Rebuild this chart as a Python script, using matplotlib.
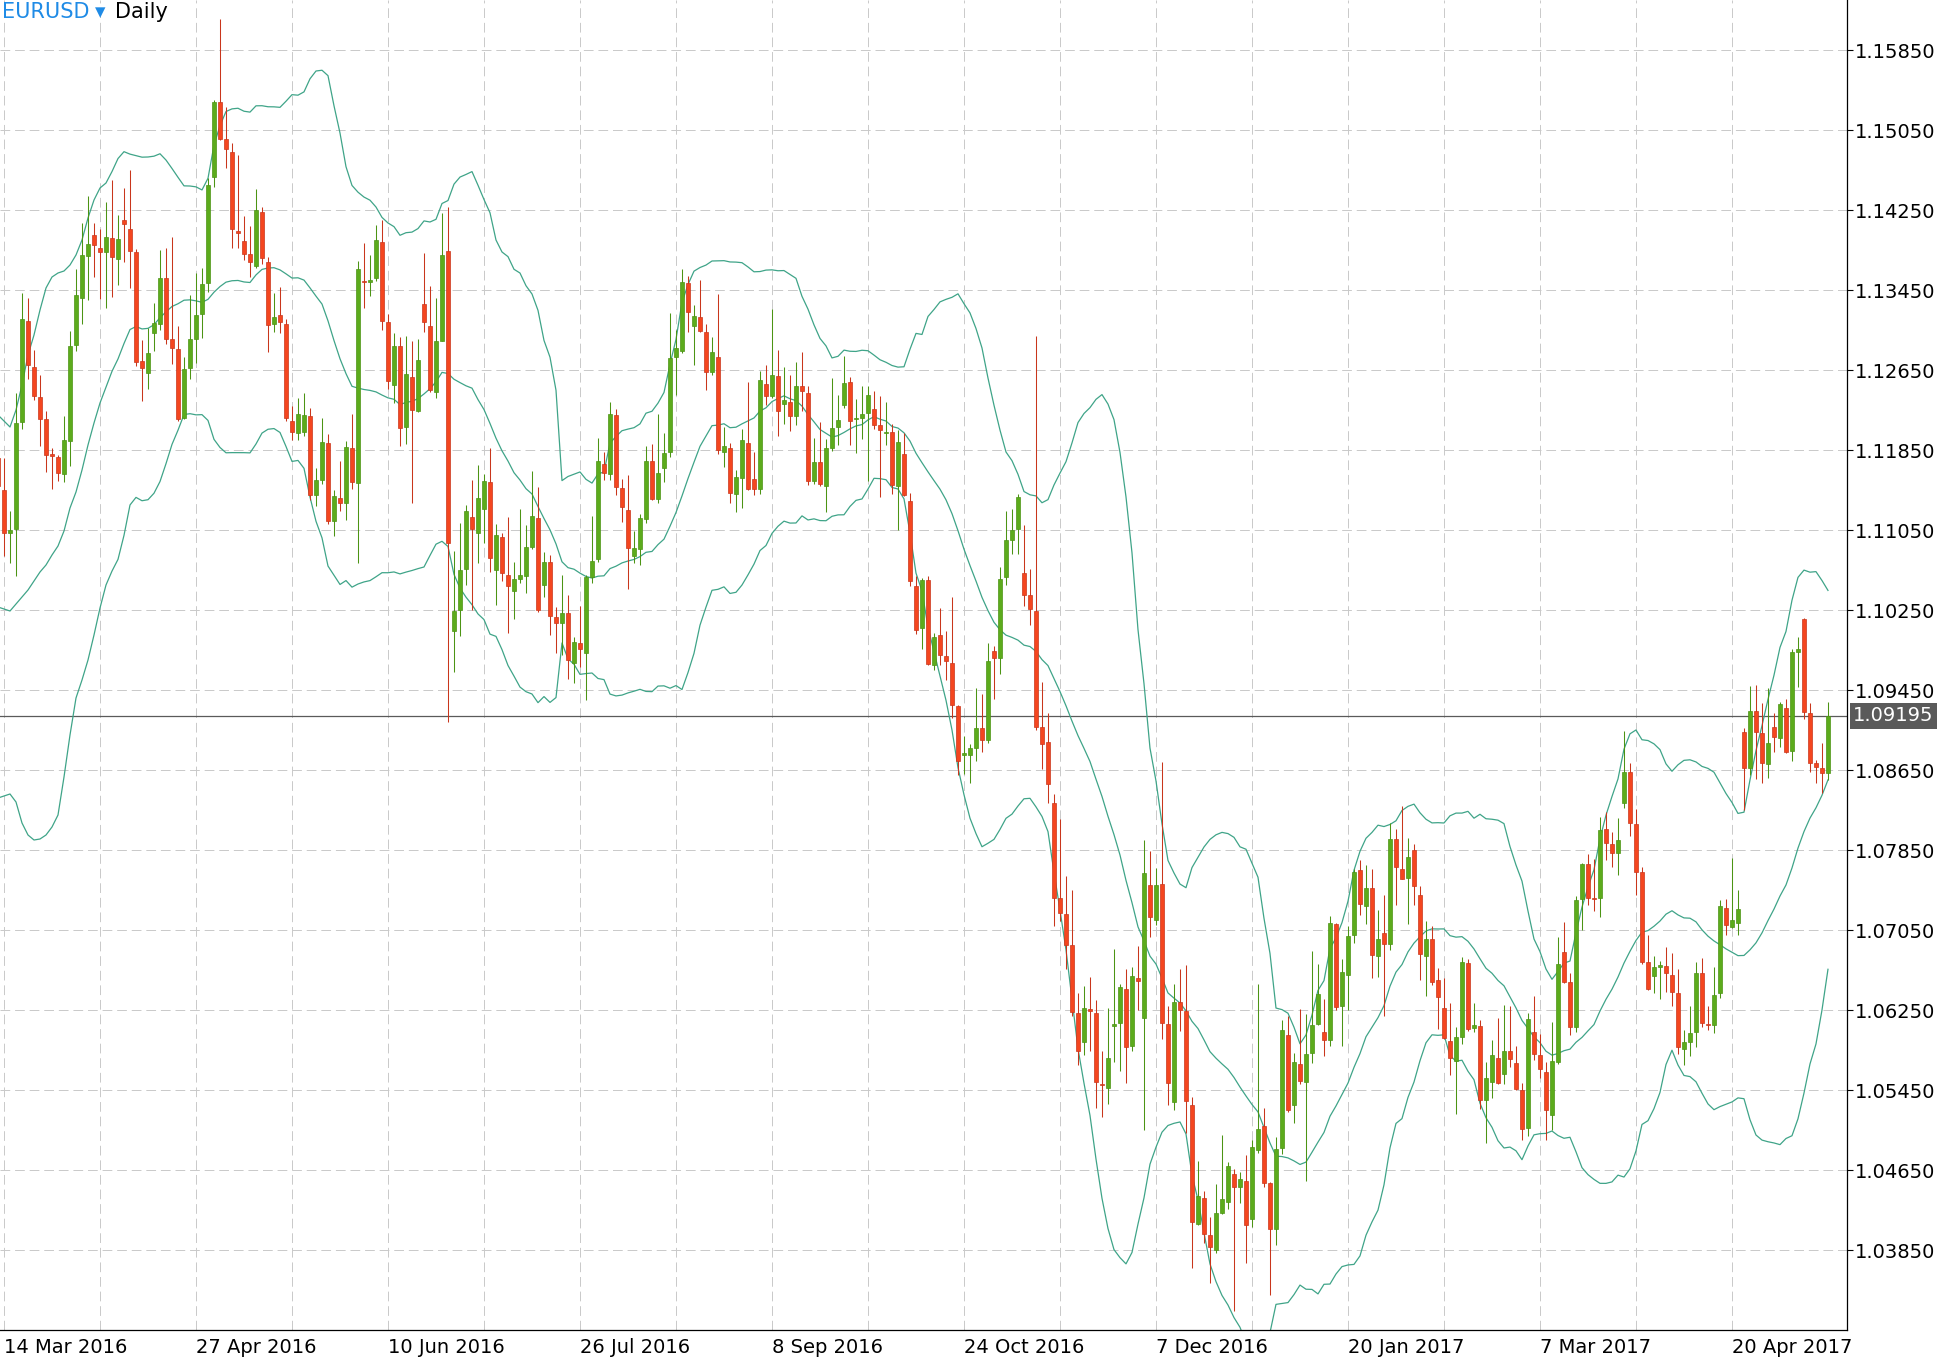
import matplotlib.pyplot as plt
import numpy as np
import pandas as pd

# EURUSD daily bars, first bar is the one just before 14 Mar 2016
first_bar = -1
opens = [
    1.1177, 1.1145, 1.1102, 1.1106, 1.1213, 1.1314, 1.1268, 1.1238, 1.1216, 1.1181,
    1.1178, 1.1161, 1.1194, 1.1290, 1.1337, 1.1379, 1.1400, 1.1387, 1.1383, 1.1397,
    1.1376, 1.1415, 1.1406, 1.1383, 1.1274, 1.1262, 1.1302, 1.1311, 1.1357, 1.1296,
    1.1286, 1.1217, 1.1267, 1.1296, 1.1321, 1.1352, 1.1458, 1.1533, 1.1496, 1.1483,
    1.1404, 1.1394, 1.1381, 1.1369, 1.1423, 1.1373, 1.1311, 1.1320, 1.1311, 1.1214,
    1.1202, 1.1203, 1.1219, 1.1140, 1.1155, 1.1192, 1.1114, 1.1137, 1.1132, 1.1187,
    1.1152, 1.1354, 1.1353, 1.1357, 1.1393, 1.1313, 1.1250, 1.1289, 1.1208, 1.1258,
    1.1224, 1.1331, 1.1309, 1.1243, 1.1294, 1.1384, 1.1004, 1.1025, 1.1066, 1.1118,
    1.1102, 1.1126, 1.1153, 1.1065, 1.1098, 1.1060, 1.1044, 1.1056, 1.1059, 1.1088,
    1.1117, 1.1050, 1.1073, 1.1018, 1.1012, 1.1022, 1.0972, 1.0992, 1.0982, 1.1058,
    1.1076, 1.1171, 1.1161, 1.1220, 1.1147, 1.1125, 1.1079, 1.1086, 1.1116, 1.1174,
    1.1136, 1.1167, 1.1183, 1.1278, 1.1284, 1.1352, 1.1309, 1.1318, 1.1303, 1.1263,
    1.1278, 1.1183, 1.1187, 1.1141, 1.1157, 1.1192, 1.1156, 1.1146, 1.1251, 1.1239,
    1.1259, 1.1231, 1.1233, 1.1219, 1.1249, 1.1242, 1.1154, 1.1173, 1.1149, 1.1187,
    1.1208, 1.1230, 1.1253, 1.1216, 1.1217, 1.1222, 1.1226, 1.1210, 1.1202, 1.1203,
    1.1149, 1.1181, 1.1134, 1.1049, 1.1007, 1.1055, 1.0970, 1.1000, 1.0979, 1.0972,
    1.0929, 1.0880, 1.0880, 1.0887, 1.0907, 1.0895, 1.0984, 1.0977, 1.1058, 1.1095,
    1.1106, 1.1062, 1.1040, 1.1024, 1.0908, 1.0893, 1.0832, 1.0737, 1.0721, 1.0690,
    1.0622, 1.0593, 1.0626, 1.0622, 1.0551, 1.0547, 1.0609, 1.0612, 1.0646, 1.0589,
    1.0657, 1.0617, 1.0750, 1.0715, 1.0751, 1.0611, 1.0533, 1.0633, 1.0624, 1.0530,
    1.0411, 1.0437, 1.0400, 1.0385, 1.0422, 1.0433, 1.0461, 1.0448, 1.0454, 1.0416,
    1.0485, 1.0509, 1.0452, 1.0406, 1.0487, 1.0600, 1.0530, 1.0571, 1.0553, 1.0582,
    1.0611, 1.0603, 1.0595, 1.0711, 1.0629, 1.0660, 1.0700, 1.0765, 1.0729, 1.0747,
    1.0679, 1.0702, 1.0691, 1.0796, 1.0766, 1.0757, 1.0785, 1.0740, 1.0679, 1.0696,
    1.0655, 1.0627, 1.0594, 1.0574, 1.0598, 1.0672, 1.0607, 1.0609, 1.0535, 1.0553,
    1.0577, 1.0561, 1.0584, 1.0572, 1.0545, 1.0507, 1.0603, 1.0580, 1.0563, 1.0520,
    1.0573, 1.0683, 1.0653, 1.0608, 1.0736, 1.0771, 1.0737, 1.0737, 1.0806, 1.0791,
    1.0782, 1.0832, 1.0863, 1.0811, 1.0763, 1.0673, 1.0659, 1.0668, 1.0669, 1.0660,
    1.0642, 1.0586, 1.0593, 1.0603, 1.0662, 1.0611, 1.0610, 1.0642, 1.0727, 1.0708,
    1.0712, 1.0903, 1.0867, 1.0924, 1.0902, 1.0871, 1.0908, 1.0897, 1.0927, 1.0884,
    1.0983, 1.1016, 1.0922, 1.0872, 1.0867, 1.0862,
]
highs = [
    1.1185, 1.1177, 1.1124, 1.1242, 1.1342, 1.1337, 1.1285, 1.1260, 1.1224, 1.1187,
    1.1180, 1.1219, 1.1304, 1.1366, 1.1412, 1.1439, 1.1412, 1.1406, 1.1433, 1.1455,
    1.1420, 1.1447, 1.1465, 1.1386, 1.1295, 1.1307, 1.1332, 1.1385, 1.1387, 1.1398,
    1.1309, 1.1278, 1.1340, 1.1362, 1.1367, 1.1457, 1.1535, 1.1616, 1.1528, 1.1492,
    1.1480, 1.1419, 1.1409, 1.1446, 1.1428, 1.1378, 1.1342, 1.1348, 1.1316, 1.1229,
    1.1237, 1.1242, 1.1227, 1.1167, 1.1217, 1.1201, 1.1145, 1.1174, 1.1194, 1.1221,
    1.1374, 1.1392, 1.1380, 1.1410, 1.1415, 1.1321, 1.1302, 1.1298, 1.1299, 1.1294,
    1.1296, 1.1382, 1.1349, 1.1337, 1.1422, 1.1428, 1.1084, 1.1112, 1.1130, 1.1155,
    1.1170, 1.1161, 1.1187, 1.1111, 1.1102, 1.1118, 1.1073, 1.1126, 1.1110, 1.1164,
    1.1148, 1.1083, 1.1080, 1.1028, 1.1060, 1.1040, 1.0998, 1.1029, 1.1060, 1.1119,
    1.1197, 1.1183, 1.1233, 1.1226, 1.1156, 1.1160, 1.1104, 1.1121, 1.1189, 1.1191,
    1.1221, 1.1202, 1.1322, 1.1305, 1.1366, 1.1359, 1.1330, 1.1355, 1.1311, 1.1298,
    1.1341, 1.1208, 1.1192, 1.1165, 1.1206, 1.1253, 1.1183, 1.1264, 1.1270, 1.1326,
    1.1285, 1.1268, 1.1260, 1.1273, 1.1283, 1.1249, 1.1197, 1.1213, 1.1196, 1.1257,
    1.1240, 1.1279, 1.1258, 1.1236, 1.1249, 1.1249, 1.1244, 1.1239, 1.1233, 1.1211,
    1.1205, 1.1202, 1.1142, 1.1059, 1.1057, 1.1059, 1.1002, 1.1027, 1.1004, 1.1038,
    1.0930, 1.0899, 1.0891, 1.0947, 1.0941, 1.0992, 1.0989, 1.1068, 1.1124, 1.1126,
    1.1141, 1.1110, 1.1066, 1.1299, 1.0953, 1.0922, 1.0841, 1.0816, 1.0759, 1.0745,
    1.0642, 1.0649, 1.0658, 1.0635, 1.0584, 1.0627, 1.0686, 1.0651, 1.0666, 1.0668,
    1.0689, 1.0795, 1.0784, 1.0767, 1.0873, 1.0629, 1.0651, 1.0666, 1.0670, 1.0538,
    1.0474, 1.0444, 1.0418, 1.0451, 1.0500, 1.0473, 1.0466, 1.0463, 1.0480, 1.0495,
    1.0651, 1.0527, 1.0453, 1.0498, 1.0615, 1.0619, 1.0582, 1.0626, 1.0621, 1.0684,
    1.0671, 1.0636, 1.0719, 1.0712, 1.0676, 1.0709, 1.0766, 1.0775, 1.0770, 1.0766,
    1.0725, 1.0740, 1.0812, 1.0806, 1.0829, 1.0797, 1.0791, 1.0749, 1.0714, 1.0709,
    1.0667, 1.0657, 1.0632, 1.0608, 1.0678, 1.0676, 1.0632, 1.0615, 1.0573, 1.0595,
    1.0617, 1.0630, 1.0629, 1.0589, 1.0552, 1.0622, 1.0639, 1.0601, 1.0573, 1.0613,
    1.0698, 1.0713, 1.0662, 1.0739, 1.0772, 1.0781, 1.0776, 1.0818, 1.0823, 1.0803,
    1.0817, 1.0904, 1.0872, 1.0826, 1.0768, 1.0700, 1.0679, 1.0674, 1.0688, 1.0682,
    1.0666, 1.0605, 1.0629, 1.0673, 1.0677, 1.0629, 1.0668, 1.0735, 1.0736, 1.0777,
    1.0745, 1.0907, 1.0949, 1.0950, 1.0932, 1.0947, 1.0922, 1.0933, 1.0936, 1.0986,
    1.0998, 1.1017, 1.0932, 1.0875, 1.0892, 1.0933,
]
lows = [
    1.1140, 1.1079, 1.1072, 1.1059, 1.1206, 1.1256, 1.1235, 1.1189, 1.1163, 1.1146,
    1.1154, 1.1153, 1.1169, 1.1284, 1.1311, 1.1335, 1.1358, 1.1336, 1.1327, 1.1338,
    1.1350, 1.1373, 1.1347, 1.1269, 1.1234, 1.1246, 1.1284, 1.1305, 1.1291, 1.1271,
    1.1214, 1.1216, 1.1256, 1.1272, 1.1297, 1.1343, 1.1448, 1.1495, 1.1467, 1.1387,
    1.1387, 1.1375, 1.1358, 1.1367, 1.1371, 1.1283, 1.1303, 1.1302, 1.1214, 1.1195,
    1.1195, 1.1199, 1.1135, 1.1129, 1.1151, 1.1111, 1.1099, 1.1124, 1.1115, 1.1146,
    1.1072, 1.1327, 1.1339, 1.1354, 1.1305, 1.1246, 1.1232, 1.1189, 1.1191, 1.1132,
    1.1223, 1.1303, 1.1243, 1.1237, 1.1294, 1.0913, 1.0963, 1.0999, 1.1050, 1.1025,
    1.1072, 1.1092, 1.1063, 1.1030, 1.1054, 1.1002, 1.1016, 1.1052, 1.1042, 1.1086,
    1.1023, 1.1038, 1.1000, 1.0982, 1.0980, 1.0956, 1.0952, 1.0968, 1.0935, 1.1052,
    1.1073, 1.1155, 1.1155, 1.1140, 1.1113, 1.1046, 1.1072, 1.1070, 1.1112, 1.1135,
    1.1132, 1.1153, 1.1178, 1.1240, 1.1282, 1.1303, 1.1270, 1.1303, 1.1245, 1.1260,
    1.1181, 1.1168, 1.1132, 1.1123, 1.1127, 1.1145, 1.1140, 1.1141, 1.1230, 1.1237,
    1.1199, 1.1211, 1.1204, 1.1210, 1.1224, 1.1150, 1.1151, 1.1149, 1.1123, 1.1184,
    1.1190, 1.1227, 1.1190, 1.1182, 1.1196, 1.1154, 1.1206, 1.1138, 1.1190, 1.1141,
    1.1105, 1.1139, 1.1049, 1.1001, 1.0986, 1.0970, 1.0965, 1.0970, 1.0955, 1.0917,
    1.0860, 1.0861, 1.0852, 1.0874, 1.0883, 1.0892, 1.0936, 1.0961, 1.1050, 1.1081,
    1.1081, 1.1029, 1.1010, 1.0905, 1.0866, 1.0832, 1.0709, 1.0714, 1.0666, 1.0619,
    1.0570, 1.0580, 1.0584, 1.0527, 1.0518, 1.0531, 1.0573, 1.0564, 1.0552, 1.0584,
    1.0625, 1.0505, 1.0698, 1.0710, 1.0596, 1.0530, 1.0525, 1.0604, 1.0502, 1.0367,
    1.0410, 1.0392, 1.0352, 1.0382, 1.0421, 1.0426, 1.0324, 1.0432, 1.0372, 1.0408,
    1.0482, 1.0448, 1.0340, 1.0390, 1.0481, 1.0523, 1.0512, 1.0551, 1.0454, 1.0572,
    1.0610, 1.0579, 1.0589, 1.0625, 1.0589, 1.0625, 1.0692, 1.0720, 1.0711, 1.0657,
    1.0658, 1.0619, 1.0685, 1.0730, 1.0756, 1.0711, 1.0730, 1.0655, 1.0639, 1.0650,
    1.0606, 1.0596, 1.0560, 1.0521, 1.0591, 1.0604, 1.0603, 1.0526, 1.0492, 1.0537,
    1.0551, 1.0551, 1.0568, 1.0545, 1.0495, 1.0499, 1.0575, 1.0557, 1.0495, 1.0505,
    1.0571, 1.0652, 1.0600, 1.0603, 1.0705, 1.0730, 1.0724, 1.0718, 1.0775, 1.0768,
    1.0760, 1.0827, 1.0799, 1.0740, 1.0671, 1.0645, 1.0642, 1.0636, 1.0643, 1.0629,
    1.0581, 1.0570, 1.0579, 1.0588, 1.0608, 1.0605, 1.0602, 1.0637, 1.0700, 1.0707,
    1.0700, 1.0825, 1.0860, 1.0856, 1.0852, 1.0857, 1.0883, 1.0888, 1.0882, 1.0874,
    1.0948, 1.0916, 1.0863, 1.0852, 1.0842, 1.0855,
]
closes = [
    1.1149, 1.1102, 1.1105, 1.1212, 1.1316, 1.1270, 1.1239, 1.1216, 1.1180, 1.1179,
    1.1162, 1.1195, 1.1289, 1.1340, 1.1380, 1.1391, 1.1390, 1.1383, 1.1398, 1.1378,
    1.1396, 1.1411, 1.1384, 1.1273, 1.1267, 1.1282, 1.1312, 1.1357, 1.1296, 1.1287,
    1.1216, 1.1266, 1.1296, 1.1320, 1.1351, 1.1450, 1.1533, 1.1496, 1.1486, 1.1406,
    1.1402, 1.1381, 1.1373, 1.1425, 1.1377, 1.1310, 1.1318, 1.1313, 1.1217, 1.1203,
    1.1221, 1.1220, 1.1140, 1.1155, 1.1193, 1.1114, 1.1139, 1.1132, 1.1188, 1.1153,
    1.1366, 1.1353, 1.1355, 1.1395, 1.1314, 1.1254, 1.1289, 1.1207, 1.1261, 1.1225,
    1.1275, 1.1313, 1.1245, 1.1294, 1.1380, 1.1092, 1.1024, 1.1065, 1.1124, 1.1106,
    1.1137, 1.1154, 1.1077, 1.1100, 1.1062, 1.1049, 1.1056, 1.1060, 1.1088, 1.1119,
    1.1025, 1.1073, 1.1019, 1.1012, 1.1022, 1.0975, 1.0993, 1.0986, 1.1058, 1.1074,
    1.1174, 1.1162, 1.1221, 1.1148, 1.1128, 1.1087, 1.1087, 1.1117, 1.1174, 1.1136,
    1.1162, 1.1182, 1.1277, 1.1287, 1.1353, 1.1323, 1.1319, 1.1304, 1.1263, 1.1283,
    1.1185, 1.1189, 1.1142, 1.1158, 1.1195, 1.1146, 1.1146, 1.1255, 1.1239, 1.1260,
    1.1224, 1.1235, 1.1219, 1.1249, 1.1244, 1.1154, 1.1173, 1.1151, 1.1187, 1.1207,
    1.1215, 1.1252, 1.1214, 1.1217, 1.1221, 1.1240, 1.1210, 1.1205, 1.1203, 1.1150,
    1.1193, 1.1140, 1.1054, 1.1005, 1.1055, 1.0971, 1.0998, 1.0980, 1.0974, 1.0930,
    1.0874, 1.0882, 1.0887, 1.0907, 1.0895, 1.0974, 1.0977, 1.1056, 1.1095, 1.1105,
    1.1138, 1.1040, 1.1026, 1.0908, 1.0891, 1.0851, 1.0737, 1.0722, 1.0690, 1.0623,
    1.0584, 1.0627, 1.0624, 1.0553, 1.0550, 1.0577, 1.0611, 1.0648, 1.0588, 1.0659,
    1.0654, 1.0762, 1.0718, 1.0750, 1.0612, 1.0552, 1.0633, 1.0625, 1.0534, 1.0413,
    1.0439, 1.0401, 1.0388, 1.0422, 1.0436, 1.0469, 1.0448, 1.0456, 1.0410, 1.0488,
    1.0506, 1.0452, 1.0406, 1.0486, 1.0605, 1.0525, 1.0573, 1.0554, 1.0581, 1.0610,
    1.0641, 1.0595, 1.0712, 1.0628, 1.0663, 1.0699, 1.0763, 1.0731, 1.0747, 1.0680,
    1.0696, 1.0691, 1.0796, 1.0768, 1.0756, 1.0778, 1.0749, 1.0681, 1.0696, 1.0653,
    1.0638, 1.0597, 1.0577, 1.0598, 1.0673, 1.0606, 1.0610, 1.0535, 1.0557, 1.0580,
    1.0552, 1.0584, 1.0576, 1.0546, 1.0506, 1.0616, 1.0581, 1.0566, 1.0525, 1.0574,
    1.0671, 1.0653, 1.0608, 1.0735, 1.0771, 1.0737, 1.0736, 1.0805, 1.0792, 1.0782,
    1.0795, 1.0863, 1.0812, 1.0763, 1.0673, 1.0646, 1.0668, 1.0670, 1.0662, 1.0643,
    1.0588, 1.0593, 1.0602, 1.0662, 1.0612, 1.0610, 1.0640, 1.0729, 1.0710, 1.0715,
    1.0726, 1.0867, 1.0924, 1.0903, 1.0872, 1.0892, 1.0898, 1.0931, 1.0883, 1.0983,
    1.0986, 1.0923, 1.0872, 1.0868, 1.0862, 1.0919,
]

# Bollinger(20, 2) values shown before 20 closes are on screen (bars -1..17)
early_upper = [1.1220, 1.1214, 1.1208, 1.1225, 1.1250, 1.1280, 1.1300, 1.1325, 1.1347, 1.1358,
               1.1362, 1.1364, 1.1370, 1.1380, 1.1395, 1.1417, 1.1435, 1.1447, 1.1452]
early_mid = [1.1028, 1.1026, 1.1024, 1.1031, 1.1038, 1.1045, 1.1054, 1.1063, 1.1070, 1.1080,
             1.1089, 1.1104, 1.1127, 1.1143, 1.1165, 1.1190, 1.1212, 1.1232, 1.1248]
early_lower = [1.0837, 1.0839, 1.0841, 1.0833, 1.0812, 1.0800, 1.0795, 1.0796, 1.0800, 1.0808,
               1.0820, 1.0858, 1.0900, 1.0937, 1.0955, 1.0975, 1.1000, 1.1027, 1.1050]

date_labels = ['14 Mar 2016', '27 Apr 2016', '10 Jun 2016', '26 Jul 2016', '8 Sep 2016',
               '24 Oct 2016', '7 Dec 2016', '20 Jan 2017', '7 Mar 2017', '20 Apr 2017']
bars_per_label = 32
price_ticks = [1.03850, 1.04650, 1.05450, 1.06250, 1.07050, 1.07850, 1.08650, 1.09450,
               1.10250, 1.11050, 1.11850, 1.12650, 1.13450, 1.14250, 1.15050, 1.15850]
last_price = 1.09195

green = '#5cab1c'
green_dark = '#4c9414'
red = '#f4461f'
red_dark = '#c9361c'
band_color = '#3fa488'
grid_color = '#c9c9c9'

plt.rcParams['font.family'] = ['DejaVu Sans']
plt.rcParams['lines.scale_dashes'] = False

fig = plt.figure(figsize=(19.45, 13.67), dpi=100)
ax = fig.add_axes([0, 1 - 1330 / 1367, 1847 / 1945, 1330 / 1367])

o = np.array(opens)
h = np.array(highs)
l = np.array(lows)
c = np.array(closes)
x = np.arange(len(c)) + first_bar
up = c >= o

# bollinger bands
s = pd.Series(c)
mid = s.rolling(20).mean().to_numpy()
sd = s.rolling(20).std(ddof=0).to_numpy()
n0 = len(early_mid)
upper = np.concatenate([early_upper, (mid + 2 * sd)[n0:]])
lower = np.concatenate([early_lower, (mid - 2 * sd)[n0:]])
middle = np.concatenate([early_mid, mid[n0:]])
for band in (upper, middle, lower):
    ax.plot(x, band, color=band_color, lw=0.9, zorder=2)

# candles
ax.vlines(x, l, h, colors=np.where(up, green_dark, red_dark), lw=0.75, zorder=3)
body = np.maximum(np.abs(c - o), 0.0001)
ax.bar(x, body, bottom=np.minimum(o, c), width=0.72,
       color=np.where(up, green, red), edgecolor=np.where(up, green_dark, red_dark),
       linewidth=0.5, zorder=4)

ax.axhline(last_price, color='#5a5a5a', lw=0.9, zorder=1)

ax.set_xlim(-0.667, 307.17)
ax.set_ylim(1.0305, 1.1635)

label_pos = np.arange(len(date_labels)) * bars_per_label
ax.set_xticks(label_pos)
ax.set_xticklabels(date_labels, ha='left', fontsize=14)
ax.set_xticks(label_pos[:-1] + bars_per_label // 2, minor=True)
ax.tick_params(axis='x', which='both', length=0, pad=6)

ax.yaxis.tick_right()
ax.set_yticks(price_ticks)
ax.set_yticklabels(['%.5f' % p for p in price_ticks], fontsize=14)
ax.tick_params(axis='y', length=4, width=0.8, pad=2, direction='out')

ax.grid(True, which='both', color=grid_color, linestyle=(0, (7, 3.5)), lw=0.7)
ax.set_axisbelow(True)

for side in ('left', 'top'):
    ax.spines[side].set_visible(False)
ax.spines['right'].set_linewidth(0.9)
ax.spines['bottom'].set_linewidth(0.9)

ax.annotate('%.5f' % last_price, xy=(1, last_price), xycoords=('axes fraction', 'data'),
            xytext=(4.5, 0), textcoords='offset points', va='center', ha='left',
            fontsize=14, color='white',
            bbox=dict(boxstyle='square,pad=0.18', fc='#5a5a5a', ec='none'))

fig.text(2 / 1945, 1 - 2 / 1367, 'EURUSD', color='#1f8be6', fontsize=15, va='top', ha='left')
fig.text(95 / 1945, 1 - 2 / 1367, '\u25be', color='#1f8be6', fontsize=15, va='top', ha='left')
fig.text(115 / 1945, 1 - 2 / 1367, 'Daily', color='black', fontsize=15, va='top', ha='left')

fig.savefig('out.png', dpi=100)
